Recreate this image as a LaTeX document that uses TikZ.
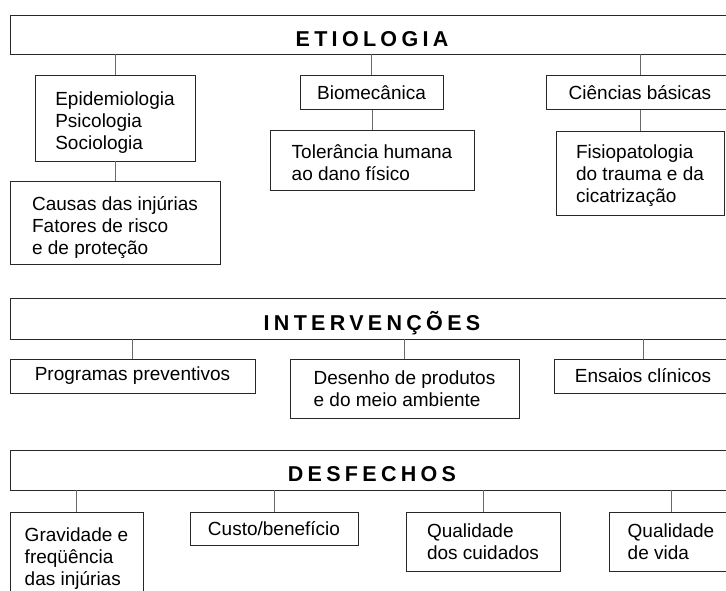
\documentclass[tikz,border=0pt]{standalone}
\usepackage{fontspec}
\setmainfont{Liberation Sans}
\usepackage{tikz}
\definecolor{framegray}{RGB}{40,40,40}
\definecolor{linkgray}{RGB}{105,105,105}
\newcommand{\topstrut}[1]{\rule{0pt}{#1}}

\begin{document}
\begin{tikzpicture}[x=1pt,y=-1pt,
    box/.style={rectangle,draw=framegray,line width=0.9pt,inner sep=0pt,align=left,font=\fontsize{19}{22}\selectfont},
    headbox/.style={rectangle,draw=framegray,line width=0.9pt,inner sep=0pt,minimum width=724pt,text height=23pt,text depth=0pt,font=\fontsize{21.5}{24}\selectfont\bfseries\addfontfeature{LetterSpace=20}},
    link/.style={draw=linkgray,line width=0.9pt}]
        \useasboundingbox (0,0) rectangle (726,590);
        \clip (0,0) rectangle (726,590);

        % Etiologia
        \node[headbox,minimum height=39pt] (etio) at (372,34.5) {ETIOLOGIA};
        \node[box,minimum width=160pt,minimum height=86pt] (epi) at (115,118) {\topstrut{23pt}Epidemiologia\\Psicologia\\Sociologia};
        \node[box,minimum width=210pt,minimum height=83pt] (causas) at (115,222.5) {\topstrut{24pt}Causas das injúrias\\Fatores de risco\\e de proteção};
        \node[box,minimum width=143pt,minimum height=34pt] (bio) at (371.5,92.5) {Biomecânica};
        \node[box,minimum width=204pt,minimum height=60pt] (toler) at (372,160) {\topstrut{20pt}Tolerância humana\\ao dano físico};
        \node[box,minimum width=188pt,minimum height=34pt] (cien) at (640,92.5) {Ciências básicas};
        \node[box,minimum width=168pt,minimum height=84pt] (fisio) at (640,173) {\topstrut{20pt}Fisiopatologia\\do trauma e da\\cicatrização};

        \draw[link] (epi.north) -- (epi.north |- etio.south);
        \draw[link] (causas.north) -- (epi.south);
        \draw[link] (bio.north) -- (bio.north |- etio.south);
        \draw[link] (toler.north) -- (toler.north |- bio.south);
        \draw[link] (cien.north) -- (cien.north |- etio.south);
        \draw[link] (fisio.north) -- (fisio.north |- cien.south);

        % Intervencoes
        \node[headbox,minimum height=41pt] (interv) at (372,318.5) {INTERVENÇÕES};
        \node[box,minimum width=245pt,minimum height=34pt] (prog) at (132.5,376) {Programas preventivos};
        \node[box,minimum width=229pt,minimum height=59pt] (desenho) at (404.5,388.5) {Desenho de produtos\\e do meio ambiente};
        \node[box,minimum width=178pt,minimum height=34pt] (ensaios) at (643,376) {Ensaios clínicos};

        \draw[link] (prog.north) -- (prog.north |- interv.south);
        \draw[link] (desenho.north) -- (desenho.north |- interv.south);
        \draw[link] (ensaios.north) -- (ensaios.north |- interv.south);

        % Desfechos
        \node[headbox,minimum height=40pt] (desf) at (372,470) {DESFECHOS};
        \node[box,minimum width=133pt,minimum height=94pt] (grav) at (76.5,559) {Gravidade e\\freqüência\\das injúrias};
        \node[box,minimum width=168pt,minimum height=33pt] (custo) at (274,528.5) {Custo/benefício};
        \node[box,minimum width=154pt,minimum height=59pt] (qcuid) at (483,541.5) {Qualidade\\dos cuidados};
        \node[box,minimum width=124pt,minimum height=59pt] (qvida) at (671,541.5) {Qualidade\\de vida};

        \draw[link] (grav.north) -- (grav.north |- desf.south);
        \draw[link] (custo.north) -- (custo.north |- desf.south);
        \draw[link] (qcuid.north) -- (qcuid.north |- desf.south);
        \draw[link] (qvida.north) -- (qvida.north |- desf.south);
\end{tikzpicture}
\end{document}
